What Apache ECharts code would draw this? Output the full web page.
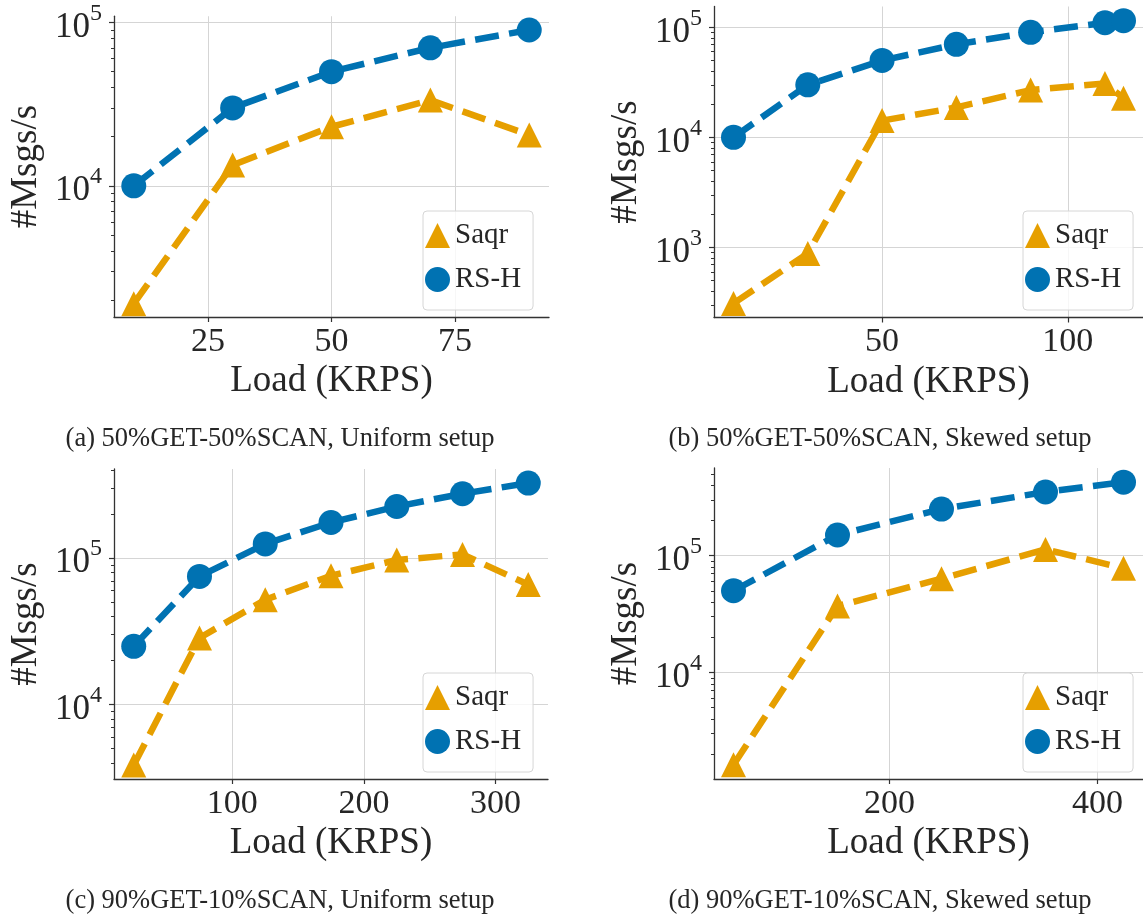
<!DOCTYPE html>
<html><head><meta charset="utf-8">
<script src="https://cdn.jsdelivr.net/npm/echarts@6/dist/echarts.min.js"></script>
<style>html,body{margin:0;padding:0;background:#fff}#c{width:1143px;height:919px}</style>
</head><body><div id="c"></div>
<script>
// ---- data (Load in KRPS, throughput in msgs/s) ----
const loadA = [10, 30, 50, 70, 90];
const saqrA = [1900, 13400, 23000, 33500, 20500];
const rshA  = [10000, 30000, 50000, 70000, 90000];

const loadB = [10, 30, 50, 70, 90, 110, 115];
const saqrB = [310, 880, 14200, 18700, 26900, 30900, 22700];
const rshB  = [10000, 30000, 50000, 70000, 90000, 110000, 115000];

const loadC = [25, 75, 125, 175, 225, 275, 325];
const saqrC = [3870, 28500, 52000, 75800, 97000, 106000, 66000];
const rshC  = [25000, 75000, 125000, 175000, 225000, 275000, 325000];

const loadD = [50, 150, 250, 350, 425];
const saqrD = [1620, 37000, 63500, 113000, 78000];
const rshD  = [50000, 150000, 250000, 350000, 425000];

// ---- tick values ----
const xTicksA = [25, 50, 75];
const xTicksB = [50, 100];
const xTicksC = [100, 200, 300];
const xTicksD = [200, 400];
const yTicksA = [1e4, 1e5];
const yTicksB = [1e3, 1e4, 1e5];
const yTicksC = [1e4, 1e5];
const yTicksD = [1e4, 1e5];

const captions = [
  '(a) 50%GET-50%SCAN, Uniform setup',
  '(b) 50%GET-50%SCAN, Skewed setup',
  '(c) 90%GET-10%SCAN, Uniform setup',
  '(d) 90%GET-10%SCAN, Skewed setup'
];
const seriesNames = ['Saqr', 'RS-H'];
const xName = 'Load (KRPS)';
const yName = '#Msgs/s';

// ---- layout / style ----
const ORANGE = '#E69F00', BLUE = '#0072B2';
const FONT = 'Liberation Serif';
const TXT = '#262626', SPINE = '#333333', GRID = '#d5d5d5';

const panels = [
  {load: loadA, saqr: saqrA, rsh: rshA, xt: xTicksA, yt: yTicksA, xmin: 6, xmax: 94, ymin: 1574, ymax: 109200,
   grid: {left: 114, top: 16, width: 435, height: 301}, leg: {left: 423, top: 211}, cap: [280, 439]},
  {load: loadB, saqr: saqrB, rsh: rshB, xt: xTicksB, yt: yTicksB, xmin: 4.75, xmax: 120.25, ymin: 230.7, ymax: 154600,
   grid: {left: 714, top: 6.5, width: 430, height: 311}, leg: {left: 1023, top: 211}, cap: [880, 439]},
  {load: loadC, saqr: saqrC, rsh: rshC, xt: xTicksC, yt: yTicksC, xmin: 10, xmax: 340, ymin: 3105, ymax: 405700,
   grid: {left: 114, top: 469, width: 434, height: 310}, leg: {left: 423, top: 673}, cap: [280, 901]},
  {load: loadD, saqr: saqrD, rsh: rshD, xt: xTicksD, yt: yTicksD, xmin: 31.25, xmax: 443.75, ymin: 1225, ymax: 561600,
   grid: {left: 714, top: 468, width: 431, height: 311}, leg: {left: 1023, top: 673}, cap: [880, 901]}
];

function minorTicks(lo, hi) {
  const out = [];
  for (let e = Math.floor(Math.log10(lo)); e <= Math.ceil(Math.log10(hi)); e++) {
    for (let k = 2; k <= 9; k++) {
      const v = k * Math.pow(10, e);
      if (v >= lo && v <= hi) out.push(v);
    }
  }
  return out;
}

const option = {
  animation: false,
  backgroundColor: '#ffffff',
  grid: [], xAxis: [], yAxis: [], series: [], legend: [], graphic: []
};

panels.forEach((p, i) => {
  option.grid.push(Object.assign({containLabel: false}, p.grid));
  option.xAxis.push({
    type: 'value', gridIndex: i, min: p.xmin, max: p.xmax,
    name: xName, nameLocation: 'middle', nameGap: 46,
    nameTextStyle: {fontFamily: FONT, fontSize: 37, color: TXT},
    axisLine: {show: true, onZero: false, lineStyle: {color: SPINE, width: 1.3}},
    axisTick: {show: true, length: 5, customValues: p.xt, lineStyle: {color: SPINE, width: 1.2}},
    axisLabel: {customValues: p.xt, fontFamily: FONT, fontSize: 34, color: TXT, margin: 8},
    splitLine: {show: true, lineStyle: {color: GRID, width: 1}}
  });
  option.yAxis.push({
    type: 'log', logBase: 10, gridIndex: i, min: p.ymin, max: p.ymax, position: 'left',
    name: yName, nameLocation: 'middle', nameGap: 69,
    nameTextStyle: {fontFamily: FONT, fontSize: 37, color: TXT},
    axisLine: {show: true, lineStyle: {color: SPINE, width: 1.3}},
    axisTick: {show: true, length: 5, customValues: p.yt, lineStyle: {color: SPINE, width: 1.2}},
    axisLabel: {
      customValues: p.yt, margin: 12,
      formatter: v => '{b|10}{s|' + Math.round(Math.log10(v)) + '}',
      rich: {
        b: {fontFamily: FONT, fontSize: 35, color: TXT, lineHeight: 35, padding: [10, 0, 0, 0]},
        s: {fontFamily: FONT, fontSize: 24, color: TXT, lineHeight: 24, padding: [0, 0, 18, 0]}
      }
    },
    splitLine: {show: true, lineStyle: {color: GRID, width: 1}}
  });
  // minor ticks axis (same scale)
  option.yAxis.push({
    type: 'log', logBase: 10, gridIndex: i, min: p.ymin, max: p.ymax, position: 'left',
    axisLine: {show: false},
    axisTick: {show: true, length: 3, customValues: minorTicks(p.ymin, p.ymax), lineStyle: {color: SPINE, width: 1}},
    axisLabel: {show: false},
    splitLine: {show: false}
  });
  const mk = (name, xs, ys, color, symbol) => ({
    type: 'line', name: name, xAxisIndex: i, yAxisIndex: 2 * i,
    data: xs.map((x, j) => [x, ys[j]]),
    symbol: symbol, symbolSize: 25, showSymbol: true,
    lineStyle: {color: color, width: 6.5, type: [24, 10.4]},
    itemStyle: {color: color},
    emphasis: {disabled: true}, clip: true
  });
  option.series.push(mk(seriesNames[0], p.load, p.saqr, ORANGE, 'triangle'));
  option.series.push(mk(seriesNames[1], p.load, p.rsh, BLUE, 'circle'));
  option.legend.push({
    orient: 'vertical', left: p.leg.left, top: p.leg.top,
    data: [{name: seriesNames[0], icon: 'triangle'}, {name: seriesNames[1], icon: 'circle'}],
    itemWidth: 25, itemHeight: 25, itemGap: 15,
    padding: [10, 12, 16, 2],
    backgroundColor: 'rgba(255,255,255,0.8)', borderColor: '#d6d6d6', borderWidth: 1, borderRadius: 4,
    textStyle: {fontFamily: FONT, fontSize: 29, color: TXT, lineHeight: 25},
    selectedMode: false
  });
  option.graphic.push({
    type: 'text', x: p.cap[0], y: p.cap[1],
    style: {text: captions[i], fontFamily: FONT, fontSize: 26.5, fill: TXT, align: 'center', verticalAlign: 'middle'}
  });
});

const chart = echarts.init(document.getElementById('c'), null, {renderer: 'canvas'});
chart.setOption(option);
</script>
</body></html>
